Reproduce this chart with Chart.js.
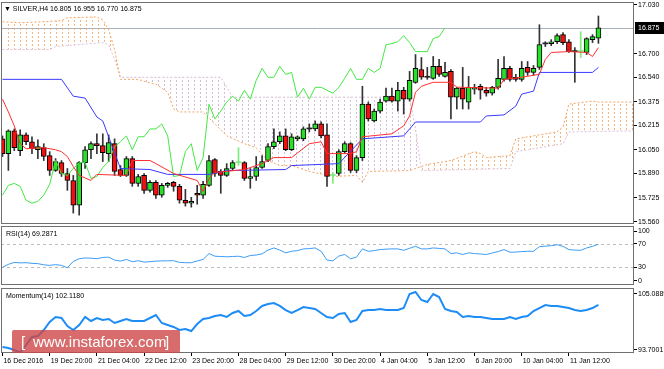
<!DOCTYPE html>
<html>
<head>
<meta charset="utf-8">
<script src="https://cdn.jsdelivr.net/npm/chart.js@4.4.1/dist/chart.umd.min.js"></script>
<style>
  body { margin: 0; background: #fff; width: 664px; height: 369px; overflow: hidden; position: relative;
         font-family: "Liberation Sans", Arial, sans-serif; }
  canvas { position: absolute; left: 0; }
  .lbl { position: absolute; font-size: 7px; line-height: 9px; color: #000; white-space: nowrap; }
  .mark { position: absolute; left: 12px; top: 330px; width: 168px; height: 23px; background: rgba(206, 70, 70, 0.8);
          border-radius: 2px; color: #fff; font-size: 15px; line-height: 23px; white-space: nowrap; }
  .mark span { position: absolute; top: 0; }
</style>
</head>
<body>
<canvas id="main" width="664" height="226" style="top:0"></canvas>
<canvas id="rsi" width="664" height="60" style="top:226px"></canvas>
<canvas id="mom" width="664" height="83" style="top:286px"></canvas>

<div class="lbl" style="left:4px;top:4px">&#9660; SILVER,H4 16.805 16.955 16.770 16.875</div>
<div class="lbl" style="left:6px;top:229px">RSI(14) 69.2871</div>
<div class="lbl" style="left:6px;top:291px">Momentum(14) 102.1180</div>
<div class="mark"><span style="left:9px">[</span><span style="left:21px">www.instaforex.com</span><span style="left:153px">]</span></div>

<script>
// H4 candles, oldest first
const opens = [16.123, 16.023, 16.177, 16.043, 16.150, 16.103, 16.050, 16.063, 16.009, 15.909,
  15.962, 15.888, 15.841, 15.673, 15.962, 16.049, 16.090, 16.077, 16.023, 16.090,
  15.915, 15.875, 15.989, 15.821, 15.875, 15.774, 15.828, 15.741, 15.808, 15.828,
  15.801, 15.707, 15.687, 15.754, 15.741, 15.808, 15.982, 15.902, 15.875, 15.922,
  15.962, 15.962, 15.855, 15.868, 15.929, 15.976, 16.070, 16.103, 16.143, 16.049,
  16.123, 16.123, 16.192, 16.190, 16.224, 16.150, 15.875, 15.888, 16.036, 16.090,
  15.909, 15.996, 16.358, 16.244, 16.311, 16.378, 16.412, 16.378, 16.452, 16.392,
  16.506, 16.593, 16.542, 16.533, 16.614, 16.546, 16.580, 16.405, 16.466, 16.372,
  16.459, 16.479, 16.452, 16.432, 16.472, 16.526, 16.600, 16.540, 16.526, 16.607,
  16.573, 16.607, 16.766, 16.768, 16.781, 16.829, 16.781, 16.716, 16.714, 16.708,
  16.795, 16.805];
const highs = [16.143, 16.184, 16.190, 16.184, 16.164, 16.137, 16.117, 16.090, 16.036, 15.989,
  15.976, 15.922, 15.875, 15.969, 16.070, 16.103, 16.157, 16.157, 16.150, 16.123,
  15.942, 16.003, 16.003, 15.882, 15.888, 15.841, 15.841, 15.821, 15.828, 15.835,
  15.815, 15.781, 15.727, 15.808, 15.835, 16.009, 15.989, 15.915, 15.955, 15.976,
  16.063, 15.969, 15.922, 16.003, 16.009, 16.090, 16.190, 16.170, 16.190, 16.157,
  16.143, 16.204, 16.224, 16.244, 16.238, 16.224, 15.895, 16.049, 16.103, 16.097,
  16.009, 16.479, 16.372, 16.325, 16.392, 16.466, 16.466, 16.506, 16.472, 16.580,
  16.694, 16.674, 16.607, 16.681, 16.661, 16.641, 16.593, 16.472, 16.607, 16.546,
  16.493, 16.493, 16.472, 16.479, 16.661, 16.681, 16.614, 16.560, 16.647, 16.647,
  16.620, 16.896, 16.781, 16.795, 16.835, 16.842, 16.795, 16.741, 16.849, 16.808,
  16.829, 16.955];
const lows = [16.003, 15.909, 16.043, 16.009, 16.083, 16.023, 15.989, 15.976, 15.875, 15.902,
  15.868, 15.774, 15.620, 15.606, 15.922, 15.989, 16.023, 15.969, 15.969, 15.875,
  15.868, 15.868, 15.801, 15.801, 15.754, 15.761, 15.720, 15.727, 15.794, 15.768,
  15.687, 15.667, 15.660, 15.680, 15.720, 15.801, 15.868, 15.754, 15.868, 15.909,
  15.942, 15.841, 15.788, 15.841, 15.922, 15.969, 16.056, 16.090, 16.043, 16.043,
  16.110, 16.110, 16.170, 16.177, 16.130, 15.801, 15.821, 15.875, 16.023, 15.895,
  15.895, 15.976, 16.244, 16.237, 16.298, 16.372, 16.372, 16.311, 16.291, 16.378,
  16.499, 16.526, 16.526, 16.526, 16.546, 16.540, 16.258, 16.325, 16.325, 16.325,
  16.426, 16.392, 16.412, 16.419, 16.459, 16.513, 16.513, 16.513, 16.513, 16.553,
  16.553, 16.593, 16.748, 16.754, 16.768, 16.761, 16.708, 16.506, 16.674, 16.694,
  16.775, 16.770];
const closes = [16.023, 16.177, 16.063, 16.150, 16.103, 16.056, 16.070, 16.003, 15.909, 15.969,
  15.888, 15.841, 15.673, 15.962, 16.049, 16.090, 16.077, 16.030, 16.097, 15.902,
  15.875, 15.989, 15.821, 15.868, 15.774, 15.828, 15.741, 15.808, 15.821, 15.801,
  15.707, 15.687, 15.700, 15.741, 15.815, 15.976, 15.888, 15.875, 15.922, 15.962,
  15.962, 15.855, 15.868, 15.929, 15.969, 16.070, 16.103, 16.143, 16.049, 16.137,
  16.137, 16.190, 16.190, 16.224, 16.143, 15.868, 15.875, 16.036, 16.090, 15.909,
  15.996, 16.358, 16.258, 16.311, 16.372, 16.412, 16.378, 16.452, 16.392, 16.519,
  16.600, 16.540, 16.540, 16.614, 16.560, 16.573, 16.405, 16.466, 16.392, 16.472,
  16.472, 16.452, 16.432, 16.472, 16.533, 16.600, 16.526, 16.526, 16.600, 16.573,
  16.600, 16.761, 16.768, 16.781, 16.822, 16.775, 16.714, 16.714, 16.714, 16.802,
  16.815, 16.875];

// Ichimoku lines: bar index -> price
const tenkanBars = [0, 1, 2, 3, 4, 7, 9, 10, 11, 12, 13, 15, 16, 21, 22, 25, 26, 29, 33, 34,
  35, 36, 41, 44, 46, 49, 52, 54, 55, 59, 60, 61, 66, 68, 69, 70, 71, 73, 76, 77,
  84, 85, 88, 91, 92, 93, 96, 99, 100, 101];
const tenkanPrices = [16.392, 16.305, 16.211, 16.090, 16.056, 16.063, 16.049, 16.036, 16.003, 15.935,
  15.875, 15.841, 15.882, 15.875, 15.976, 15.976, 15.955, 15.888, 15.841, 15.767,
  15.855, 15.895, 15.915, 15.955, 15.996, 15.996, 16.090, 16.103, 16.023, 16.023,
  16.036, 16.137, 16.157, 16.211, 16.278, 16.439, 16.479, 16.506, 16.506, 16.473,
  16.466, 16.526, 16.540, 16.560, 16.661, 16.708, 16.714, 16.708, 16.681, 16.741];
const kijunBars = [0, 10, 12, 14, 16, 17, 20, 25, 28, 35, 38, 48, 49, 57, 61, 68, 70, 81, 82, 85,
  87, 88, 90, 91, 100, 101];
const kijunPrices = [16.526, 16.526, 16.412, 16.399, 16.271, 16.244, 15.922, 15.915, 15.882, 15.882,
  15.908, 15.915, 15.942, 15.955, 16.123, 16.143, 16.237, 16.237, 16.278, 16.285,
  16.345, 16.426, 16.446, 16.573, 16.573, 16.607];
const spanABars = [0, 3, 10, 11, 16, 17, 18, 19, 20, 23, 24, 26, 28, 29, 30, 34, 36, 38, 41, 43,
  45, 47, 49, 52, 56, 60, 61, 62, 69, 71, 72, 76, 80, 81, 82, 86, 87, 90, 94, 95,
  96, 100, 101, 107];
const spanAPrices = [16.916, 16.909, 16.923, 16.943, 16.949, 16.929, 16.862, 16.728, 16.526, 16.526,
  16.513, 16.493, 16.439, 16.325, 16.305, 16.305, 16.224, 16.143, 16.090, 16.063,
  15.976, 15.942, 15.942, 15.902, 15.868, 15.875, 15.828, 15.902, 15.908, 15.935,
  15.949, 15.976, 16.036, 16.023, 15.996, 16.009, 16.123, 16.143, 16.170, 16.204,
  16.358, 16.379, 16.372, 16.372];
const spanBBars = [0, 8, 9, 17, 18, 19, 20, 37, 38, 39, 69, 70, 71, 86, 87, 95, 96, 107];
const spanBPrices = [16.728, 16.728, 16.748, 16.775, 16.761, 16.661, 16.540, 16.540, 16.473, 16.405,
  16.405, 16.190, 15.908, 15.922, 16.036, 16.090, 16.170, 16.177];
const chikouShift = 26;

const rsiValues = [30.0, 35.0, 38.3, 37.5, 37.8, 36.7, 36.2, 34.2, 33.3, 34.5,
  33.3, 29.2, 40.0, 44.5, 45.8, 45.5, 44.5, 46.7, 47.2, 42.2,
  40.5, 43.3, 39.5, 41.2, 38.8, 39.5, 40.5, 40.8, 41.0, 41.2,
  38.3, 37.8, 37.8, 40.8, 43.3, 53.3, 48.8, 48.3, 47.8, 48.3,
  48.8, 46.7, 50.0, 50.8, 52.8, 59.2, 62.8, 59.2, 54.5, 57.2,
  58.3, 61.2, 61.7, 62.8, 57.2, 42.2, 41.0, 49.0, 51.7, 44.5,
  47.2, 61.2, 57.2, 58.3, 60.0, 60.8, 61.2, 61.2, 58.8, 62.2,
  65.5, 61.2, 61.2, 62.8, 62.0, 61.2, 53.3, 54.5, 51.7, 54.5,
  53.3, 52.5, 51.7, 54.2, 56.7, 60.0, 55.5, 55.8, 56.7, 57.2,
  57.2, 65.0, 65.8, 66.7, 68.3, 65.5, 60.0, 59.2, 58.8, 62.8,
  65.5, 69.2871];
const momentumValues = [94.75, 94.58, 94.23, 93.79, 95.10, 96.50, 96.68, 97.73, 99.13, 100.01,
  99.83, 98.43, 97.73, 98.61, 100.01, 99.31, 99.83, 99.48, 99.66, 98.96,
  99.31, 99.66, 99.31, 99.31, 99.31, 99.83, 100.36, 98.96, 98.61, 98.26,
  97.73, 97.90, 97.55, 98.78, 99.66, 99.83, 100.18, 100.36, 100.01, 100.71,
  101.06, 100.18, 100.36, 101.06, 101.94, 102.29, 102.46, 101.94, 101.23, 100.71,
  101.23, 101.76, 101.58, 101.41, 100.71, 100.01, 99.83, 100.53, 100.71, 99.13,
  99.48, 101.06, 101.23, 101.23, 101.41, 101.23, 101.23, 101.23, 101.58, 104.04,
  104.39, 102.99, 102.64, 104.04, 103.51, 101.41, 101.06, 100.88, 100.01, 100.18,
  100.01, 100.01, 99.83, 99.66, 99.66, 99.66, 100.01, 99.66, 100.01, 100.18,
  101.06, 101.58, 102.11, 101.94, 101.94, 101.76, 101.58, 101.23, 101.06, 101.23,
  101.58, 102.118];

const xTickLabels = ["16 Dec 2016", "19 Dec 20:00", "21 Dec 04:00", "22 Dec 12:00", "23 Dec 20:00",
  "28 Dec 04:00", "29 Dec 12:00", "30 Dec 20:00", "4 Jan 04:00", "5 Jan 12:00",
  "6 Jan 20:00", "10 Jan 04:00", "11 Jan 12:00"];
const priceTicks = [17.030, 16.700, 16.540, 16.375, 16.215, 16.050, 15.890, 15.725, 15.560];
const rsiLevels = [70, 30];
const rsiTickLabels = ["100", "70", "30", "0"];
const momTickLabels = ["105.0889", "93.7001"];

// ---- look ----
const FONT = '"Liberation Sans", Arial, sans-serif';
Chart.defaults.font.family = FONT;
Chart.defaults.font.size = 7;
Chart.defaults.color = "#000";
Chart.defaults.animation = false;

const BULL = "#2adf2a", BEAR = "#f01010", DOJI = "#7cec7c", WICK = "#333333";
const X_MIN = -0.25, X_MAX = 107.03;   // bars 0..101 plus the cloud shifted ahead
const rsiTickPos = [91.5, 70, 30, 7];  // edge labels sit just inside the panel
const momTickPos = [104.04, 94.23];

const pts = (bars, vals) => bars.map((b, k) => ({ x: b, y: vals[k] }));
const series = vals => vals.map((v, i) => ({ x: i, y: v }));

const hiddenX = () => ({ type: "linear", min: X_MIN, max: X_MAX, offset: false, display: false,
  grid: { offset: false } });

function rightAxis(extra) {
  return Object.assign({
    position: "right",
    afterFit(s) { s.width = 30; s.paddingTop = 0; s.paddingBottom = 0; },
    ticks: { padding: 1, autoSkip: false, color: "#000" },
    grid: { drawOnChartArea: false, tickLength: 3, color: "#000" },
    border: { display: false }
  }, extra);
}

// frame, level lines and the bid line of each MT4 panel
function panelDecor(levels, price) {
  return {
    id: "panelDecor",
    beforeDatasetsDraw(chart) {
      const { ctx, chartArea: a } = chart;
      const y = chart.scales.y;
      ctx.save();
      ctx.lineWidth = 1;
      ctx.strokeStyle = "#bdbdbd";
      ctx.setLineDash([3, 3]);
      levels.forEach(v => {
        const py = Math.round(y.getPixelForValue(v)) + 0.5;
        ctx.beginPath(); ctx.moveTo(a.left, py); ctx.lineTo(a.right, py); ctx.stroke();
      });
      ctx.setLineDash([]);
      if (price != null) {
        ctx.strokeStyle = "#a9b1ba";
        const py = Math.round(y.getPixelForValue(price)) + 0.5;
        ctx.beginPath(); ctx.moveTo(a.left, py); ctx.lineTo(a.right, py); ctx.stroke();
      }
      ctx.restore();
    },
    afterDraw(chart) {
      const { ctx, chartArea: a } = chart;
      ctx.save();
      ctx.strokeStyle = "#707070";
      ctx.lineWidth = 1;
      ctx.strokeRect(a.left + 0.5, a.top + 0.5, a.right - a.left - 1, a.bottom - a.top - 1);
      if (price != null) {
        const py = Math.round(chart.scales.y.getPixelForValue(price));
        ctx.fillStyle = "#000";
        ctx.fillRect(a.right + 1, py - 6, chart.width - a.right - 1, 12);
        ctx.fillStyle = "#fff";
        ctx.font = "7px " + FONT;
        ctx.textBaseline = "middle";
        ctx.fillText(price.toFixed(3), a.right + 4, py + 0.5);
      }
      ctx.restore();
    }
  };
}

// dotted vertical hatch like the MT4 kumo
const mainCtx = document.getElementById("main").getContext("2d");
function hatch(color) {
  const c = document.createElement("canvas");
  c.width = 6; c.height = 4;
  const g = c.getContext("2d");
  g.fillStyle = color;
  g.fillRect(2, 0, 1, 2);
  return mainCtx.createPattern(c, "repeat");
}

const bodyColors = closes.map((c, i) => {
  const d = c - opens[i];
  if (d === 0) return DOJI;
  if (Math.abs(d) < 0.003) return "#222";
  return d > 0 ? BULL : BEAR;
});
const bodyBorders = closes.map((c, i) => Math.abs(c - opens[i]) < 0.003 ? 0 : 1);
const wickColors = closes.map((c, i) => c === opens[i] ? DOJI : WICK);

new Chart(mainCtx, {
  type: "bar",
  data: {
    datasets: [
      { type: "line", data: pts(spanABars, spanAPrices), borderColor: "#f4a460", borderWidth: 1,
        borderDash: [2, 2], pointRadius: 0, tension: 0, order: 10,
        fill: { target: "+1", above: hatch("rgba(244,164,96,0.8)"), below: hatch("#d6bcd6") } },
      { type: "line", data: pts(spanBBars, spanBPrices), borderColor: "#d8bfd8", borderWidth: 1,
        borderDash: [2, 2], pointRadius: 0, tension: 0, fill: false, order: 10 },
      { data: lows.map((l, i) => ({ x: i, y: [l, highs[i]] })), backgroundColor: wickColors,
        barThickness: 1, grouped: false, borderWidth: 0, order: 6 },
      { data: opens.map((o, i) => ({ x: i, y: [o, closes[i]] })), backgroundColor: bodyColors,
        borderColor: "#000", borderWidth: bodyBorders, borderSkipped: false, minBarLength: 1,
        barThickness: 5, grouped: false, order: 5 },
      { type: "line", data: series(closes.slice(chikouShift)), borderColor: "#44e844", borderWidth: 1,
        pointRadius: 0, tension: 0, fill: false, order: 3 },
      { type: "line", data: pts(kijunBars, kijunPrices), borderColor: "#3a3aff", borderWidth: 1,
        pointRadius: 0, tension: 0, fill: false, order: 2 },
      { type: "line", data: pts(tenkanBars, tenkanPrices), borderColor: "#ff3030", borderWidth: 1,
        pointRadius: 0, tension: 0, fill: false, order: 1 }
    ]
  },
  options: {
    responsive: false, devicePixelRatio: 1, events: [],
    layout: { padding: { left: 1, top: 2, bottom: 2, right: 0 } },
    plugins: { legend: { display: false }, tooltip: { enabled: false } },
    scales: {
      x: hiddenX(),
      y: rightAxis({
        min: 15.546, max: 17.050,
        afterBuildTicks(s) { s.ticks = priceTicks.map(v => ({ value: v })); },
        ticks: { padding: 1, autoSkip: false, color: "#000", callback: v => v.toFixed(3) }
      })
    }
  },
  plugins: [panelDecor([], closes[closes.length - 1])]
});

new Chart(document.getElementById("rsi"), {
  type: "line",
  data: { datasets: [{ data: series(rsiValues), borderColor: "#3d9bf5", borderWidth: 1,
    pointRadius: 0, tension: 0, fill: false }] },
  options: {
    responsive: false, devicePixelRatio: 1, events: [],
    layout: { padding: { left: 1, top: 0, bottom: 1, right: 0 } },
    plugins: { legend: { display: false }, tooltip: { enabled: false } },
    scales: {
      x: hiddenX(),
      y: rightAxis({
        min: 0, max: 100,
        afterBuildTicks(s) { s.ticks = rsiTickPos.map(v => ({ value: v })); },
        ticks: { padding: 1, autoSkip: false, color: "#000", callback: (v, i) => rsiTickLabels[i] }
      })
    }
  },
  plugins: [panelDecor(rsiLevels, null)]
});

new Chart(document.getElementById("mom"), {
  type: "line",
  data: { datasets: [{ data: series(momentumValues), borderColor: "#1e8cf5", borderWidth: 2,
    pointRadius: 0, tension: 0, fill: false }] },
  options: {
    responsive: false, devicePixelRatio: 1, events: [],
    layout: { padding: { left: 1, top: 2, bottom: 0, right: 0 } },
    plugins: { legend: { display: false }, tooltip: { enabled: false } },
    scales: {
      x: {
        type: "linear", min: X_MIN, max: X_MAX, position: "bottom", offset: false,
        afterBuildTicks(s) { s.ticks = xTickLabels.map((_, k) => ({ value: k * 8 })); },
        afterFit(s) { s.height = 16; s.paddingLeft = 0; s.paddingRight = 0; },
        ticks: { align: "start", labelOffset: 1, padding: 1, maxRotation: 0, minRotation: 0,
          autoSkip: false, color: "#000", callback: (v, i) => xTickLabels[i] },
        grid: { drawOnChartArea: false, tickLength: 3, color: "#000", offset: false },
        border: { display: false }
      },
      y: rightAxis({
        min: 93.7001, max: 105.0889,
        afterBuildTicks(s) { s.ticks = momTickPos.map(v => ({ value: v })); },
        ticks: { padding: 1, autoSkip: false, color: "#000", callback: (v, i) => momTickLabels[i] }
      })
    }
  },
  plugins: [panelDecor([], null)]
});
</script>
</body>
</html>
